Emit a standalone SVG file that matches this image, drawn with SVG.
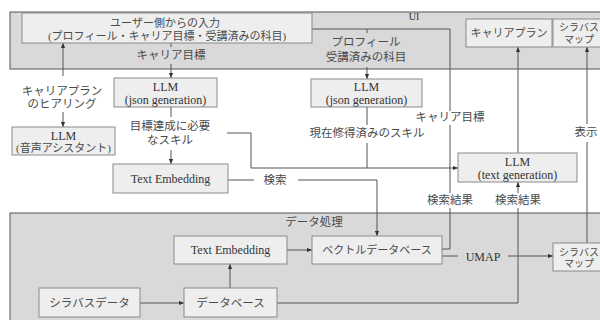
<svg xmlns="http://www.w3.org/2000/svg" width="600" height="320" viewBox="0 0 600 320">
<defs>
<marker id="ah" viewBox="0 0 6 6" refX="6" refY="3" markerWidth="5" markerHeight="5" markerUnits="userSpaceOnUse" orient="auto">
<path d="M0,0.5 L6,3 L0,5.5 z" fill="#333"/>
</marker>
</defs>
<style>
.panel{fill:#d9d9d9;stroke:#555;stroke-width:1}
.box{fill:#eeeeee;stroke:#8a8a8a;stroke-width:1}
text{font-family:"Liberation Serif","Noto Sans CJK JP",serif;fill:#333;text-anchor:middle}
.jp{font-size:11px;fill:#4a4a4a}
.sm{font-size:10px;fill:#4a4a4a}
.lb{font-size:11.5px;fill:#4a4a4a}
.en{font-size:12px}
.ln{fill:none;stroke:#555;stroke-width:1}
.ar{fill:none;stroke:#555;stroke-width:1;marker-end:url(#ah)}
</style>
<rect id="bg" x="0" y="0" width="600" height="320" fill="#ffffff"/>
<g id="panel-ui">
<rect class="panel" x="10" y="12" width="610" height="57"/>
<text x="414" y="20" style="font-size:10px">UI</text>
</g>
<g id="panel-data">
<rect class="panel" x="10" y="213" width="610" height="120"/>
<text class="lb" x="314" y="226">データ処理</text>
</g>
<g id="connectors">
<path class="ar" d="M171,64 L171,78"/>
<path class="ln" d="M171,43 L171,47"/>
<path class="ln" d="M312,29 L450,29 L450,111"/>
<path class="ln" d="M450,125 L450,193"/>
<path class="ln" d="M450,208 L450,249 L442,249"/>
<path class="ln" d="M367,29 L367,33"/>
<path class="ar" d="M367,67 L367,79"/>
<path class="ln" d="M171,107 L171,117"/>
<path class="ar" d="M171,150 L171,164"/>
<path class="ln" d="M227,133 L251,133 L251,168"/>
<path class="ar" d="M251,168 L458,168"/>
<path class="ln" d="M367,107 L367,125"/>
<path class="ln" d="M367,143 L367,168"/>
<path class="ln" d="M228,180 L254,180"/>
<path class="ar" d="M298,180 L377,180 L377,236"/>
<path class="ar" d="M518,153 L518,47"/>
<path class="ln" d="M277,303 L518,303 L518,208"/>
<path class="ar" d="M518,193 L518,182"/>
<path class="ln" d="M587,243 L587,142"/>
<path class="ar" d="M587,124 L587,47"/>
<path class="ln" d="M442,256 L458,256"/>
<path class="ar" d="M508,256 L553,256"/>
<path class="ar" d="M287,250 L312,250"/>
<path class="ar" d="M230,288 L230,264"/>
<path class="ar" d="M140,303 L184,303"/>
<path class="ar" d="M63,76 L63,43"/>
<path class="ar" d="M63,112 L63,127"/>
</g>
<g id="labels">
<text class="lb" x="171" y="59">キャリア目標</text>
<text class="lb" x="366" y="46">プロフィール</text>
<text class="lb" x="366" y="61">受講済みの科目</text>
<text class="lb" x="62" y="95">キャリアプラン</text>
<text class="lb" x="62" y="108">のヒアリング</text>
<text class="lb" x="170" y="130">目標達成に必要</text>
<text class="lb" x="170" y="144">なスキル</text>
<text class="lb" x="367" y="137">現在修得済みのスキル</text>
<text class="lb" x="450" y="121">キャリア目標</text>
<text class="lb" x="275" y="184">検索</text>
<text class="lb" x="450" y="204">検索結果</text>
<text class="lb" x="518" y="204">検索結果</text>
<text class="lb" x="586" y="136">表示</text>
<text class="en" x="483" y="261">UMAP</text>
</g>
<g id="user-input">
<rect class="box" x="22" y="13" width="290" height="30"/>
<text class="jp" x="165" y="27">ユーザー側からの入力</text>
<text class="jp" x="167" y="40">(プロフィール・キャリア目標・受講済みの科目)</text>
</g>
<g id="career-plan-ui">
<rect class="box" x="466" y="19" width="86" height="28"/>
<text class="jp" x="509" y="37">キャリアプラン</text>
</g>
<g id="syllabus-map-ui">
<rect class="box" x="553" y="19" width="64" height="28"/>
<text class="sm" x="579" y="31">シラバス</text>
<text class="sm" x="579" y="43">マップ</text>
</g>
<g id="llm-json-1">
<rect class="box" x="114" y="78" width="103" height="29"/>
<text class="en" x="165.5" y="91">LLM</text>
<text class="en" x="165.5" y="104">(json generation)</text>
</g>
<g id="llm-json-2">
<rect class="box" x="311" y="79" width="111" height="28"/>
<text class="en" x="366.5" y="91">LLM</text>
<text class="en" x="366.5" y="104">(json generation)</text>
</g>
<g id="llm-voice">
<rect class="box" x="12" y="127" width="103" height="28"/>
<text class="en" x="63.5" y="140">LLM</text>
<text class="jp" x="63.5" y="152">(音声アシスタント)</text>
</g>
<g id="text-embedding-1">
<rect class="box" x="113" y="164" width="115" height="29"/>
<text class="en" x="170.5" y="183">Text Embedding</text>
</g>
<g id="llm-text-generation">
<rect class="box" x="458" y="153" width="119" height="29"/>
<text class="en" x="517.5" y="166">LLM</text>
<text class="en" x="517.5" y="179">(text generation)</text>
</g>
<g id="text-embedding-2">
<rect class="box" x="174" y="236" width="113" height="28"/>
<text class="en" x="230.5" y="254">Text Embedding</text>
</g>
<g id="vector-db">
<rect class="box" x="312" y="236" width="130" height="28"/>
<text class="jp" x="377" y="254">ベクトルデータベース</text>
</g>
<g id="syllabus-map-dp">
<rect class="box" x="553" y="243" width="64" height="28"/>
<text class="sm" x="579" y="256">シラバス</text>
<text class="sm" x="579" y="267">マップ</text>
</g>
<g id="syllabus-data">
<rect class="box" x="39" y="288" width="101" height="29"/>
<text class="lb" x="89.5" y="307">シラバスデータ</text>
</g>
<g id="database">
<rect class="box" x="184" y="288" width="93" height="29"/>
<text class="lb" x="230.5" y="307">データベース</text>
</g>
</svg>
